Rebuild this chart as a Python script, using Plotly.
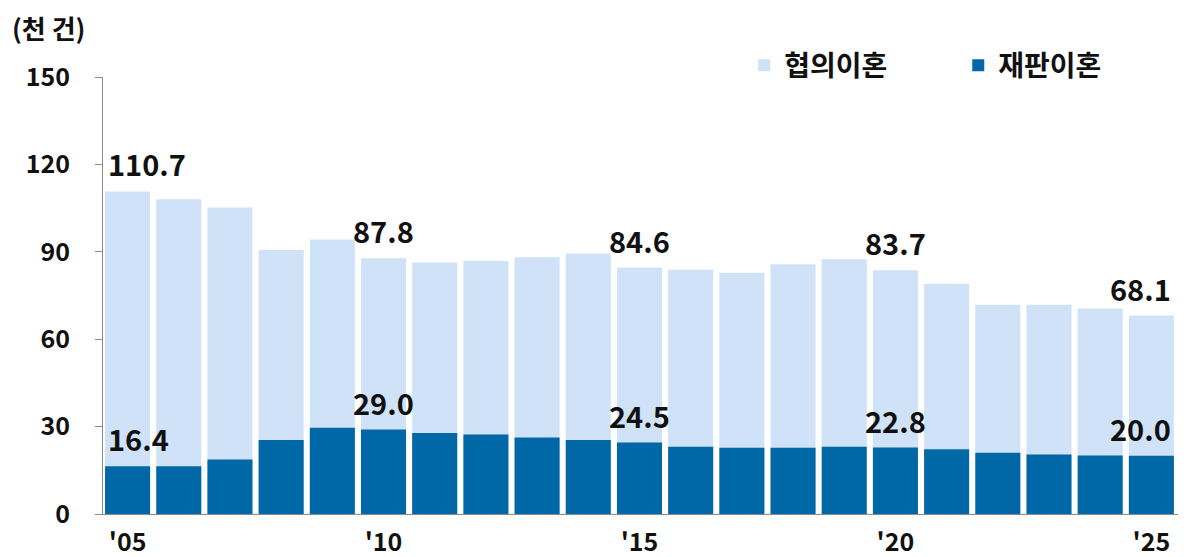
import plotly.graph_objects as go

# Divorces by type, thousands of cases
years = list(range(2005, 2026))
consensual = [110.7, 108.0, 105.2, 90.6, 94.2, 87.8, 86.3, 86.8, 88.1, 89.4,
              84.6, 83.8, 82.8, 85.7, 87.4, 83.7, 79.0, 71.8, 71.8, 70.5, 68.1]
judicial = [16.4, 16.4, 18.7, 25.4, 29.6, 29.0, 27.8, 27.3, 26.3, 25.4,
            24.5, 23.1, 22.7, 22.7, 23.1, 22.8, 22.2, 21.0, 20.4, 20.1, 20.0]
series_names = ["협의이혼", "재판이혼"]
tick_years = [2005, 2010, 2015, 2020, 2025]
tick_text = ["'05", "'10", "'15", "'20", "'25"]
labeled_years = [2005, 2010, 2015, 2020, 2025]
y_ticks = [0, 30, 60, 90, 120, 150]

LIGHT = "#cfe2f8"
DARK = "#0068a6"
FONT = "Noto Sans CJK KR"
INK = "#111111"

fig = go.Figure()
fig.add_trace(go.Bar(x=years, y=consensual, name=series_names[0],
                     marker=dict(color=LIGHT, line=dict(width=0)),
                     width=0.88, legend="legend"))
fig.add_trace(go.Bar(x=years, y=judicial, name=series_names[1],
                     marker=dict(color=DARK, line=dict(width=0)),
                     width=0.88, legend="legend2"))

# value labels above selected bars
annotations = []
for series in (consensual, judicial):
    for yr in labeled_years:
        v = series[years.index(yr)]
        if yr == years[0]:
            anchor, shift = "left", -22
        elif yr == years[-1]:
            anchor, shift = "right", 22
        else:
            anchor, shift = "center", 0
        annotations.append(dict(
            x=yr, y=v, xref="x", yref="y", text=f"{v:.1f}", showarrow=False,
            xanchor=anchor, yanchor="middle", xshift=shift, yshift=28,
            font=dict(family=FONT, size=29, color=INK, weight="bold")))

# unit caption
annotations.append(dict(
    x=-0.0865, y=1.114, xref="paper", yref="paper", text="(천 건)",
    showarrow=False, xanchor="left", yanchor="middle",
    font=dict(family=FONT, size=26, color=INK, weight="bold")))

legend_font = dict(family=FONT, size=28, color=INK, weight="bold")
fig.update_layout(
    width=1184, height=557,
    margin=dict(l=103, r=6, t=77, b=42.5, autoexpand=False),
    paper_bgcolor="white", plot_bgcolor="white",
    barmode="overlay",
    showlegend=True,
    legend=dict(x=0.5965, y=1.026, xref="paper", yref="paper",
                xanchor="left", yanchor="middle", orientation="h",
                font=legend_font, bgcolor="rgba(0,0,0,0)"),
    legend2=dict(x=0.7956, y=1.026, xref="paper", yref="paper",
                 xanchor="left", yanchor="middle", orientation="h",
                 font=legend_font, bgcolor="rgba(0,0,0,0)"),
    xaxis=dict(range=[2004.52, 2025.52], tickvals=tick_years, ticktext=tick_text,
               showgrid=False, zeroline=False, showline=True, linecolor="#8c8c8c",
               linewidth=1, ticks="", ticklabelstandoff=6, automargin=False,
               tickfont=dict(family=FONT, size=25, color=INK, weight="bold")),
    yaxis=dict(range=[0, 150], tickvals=y_ticks, showgrid=False, zeroline=False,
               showline=True, linecolor="#8c8c8c", linewidth=1,
               ticks="outside", ticklen=7, tickcolor="#8c8c8c",
               ticklabelstandoff=20, automargin=False,
               tickfont=dict(family=FONT, size=25, color=INK, weight="bold")),
    annotations=annotations,
)

fig.write_html("out.html")
